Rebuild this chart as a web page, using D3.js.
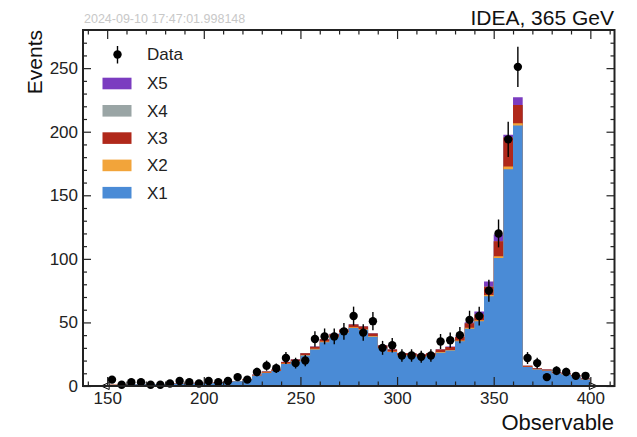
<!DOCTYPE html>
<html>
<head>
<meta charset="utf-8">
<script src="https://cdn.jsdelivr.net/npm/d3@7"></script>
<style>
  body { margin: 0; background: #fff; }
  svg { display: block; font-family: "Liberation Sans", Arial, Helvetica, sans-serif; }
</style>
</head>
<body>
<svg id="chart" width="637" height="437"></svg>
<script>
// bin low edges (5 GeV bins, 150-400)
var binLow = [150, 155, 160, 165, 170, 175, 180, 185, 190, 195,
              200, 205, 210, 215, 220, 225, 230, 235, 240, 245,
              250, 255, 260, 265, 270, 275, 280, 285, 290, 295,
              300, 305, 310, 315, 320, 325, 330, 335, 340, 345,
              350, 355, 360, 365, 370, 375, 380, 385, 390, 395];
var binWidth = 5;

var dataCounts = [5, 1, 3, 3, 1, 1, 2, 4, 3, 2,
                  4, 3, 4, 7, 5, 11, 16, 14, 22, 18,
                  20, 37, 39, 39, 43, 55, 42, 51, 30, 32,
                  24, 24, 23, 24, 35, 36, 40, 52, 55, 75,
                  120, 194, 251, 22, 18, 7, 12, 11, 8, 8];

var x1 = [0.85, 0.85, 1.35, 1.35, 1.35, 1.35, 1.75, 1.75, 1.75, 2.25,
          2.25, 2.65, 3.15, 3.65, 5.0, 8.1, 10.3, 11.7, 17.3, 19.2,
          23.9, 28.7, 34.5, 38.4, 41.8, 45.7, 44.2, 38.8, 29.7, 26.8,
          23.9, 23.9, 22.8, 23.7, 26.2, 27.9, 35.2, 45.0, 51.0, 70.5,
          100.7, 170.5, 204.8, 14.9, 13.0, 12.0, 10.1, 9.1, 7.7, 5.2];
var x2 = [0.05, 0.05, 0.05, 0.05, 0.05, 0.05, 0.05, 0.05, 0.05, 0.05,
          0.05, 0.05, 0.05, 0.05, 0.1, 0.2, 0.3, 0.3, 0.4, 0.4,
          0.4, 0.5, 0.5, 0.5, 0.5, 0.5, 0.5, 0.5, 0.4, 0.4,
          0.4, 0.4, 0.4, 0.4, 0.5, 0.5, 0.6, 0.8, 0.8, 1.0,
          1.3, 2.1, 1.8, 0.2, 0.2, 0.2, 0.2, 0.2, 0.2, 0.2];
var x3 = [0.1, 0.1, 0.1, 0.1, 0.1, 0.1, 0.2, 0.2, 0.2, 0.2,
          0.2, 0.3, 0.3, 0.3, 0.4, 0.6, 0.8, 0.9, 1.2, 1.3,
          1.5, 1.6, 1.8, 1.9, 2.0, 2.1, 2.1, 2.0, 1.7, 1.6,
          1.5, 1.5, 1.6, 1.7, 2.0, 2.3, 2.8, 3.5, 4.5, 6.6,
          11.8, 22.8, 14.4, 0.8, 0.7, 0.7, 0.6, 0.6, 0.5, 0.5];
var x4 = [0, 0, 0, 0, 0, 0, 0, 0, 0, 0,
          0, 0, 0, 0, 0, 0, 0, 0, 0, 0,
          0, 0, 0, 0, 0, 0, 0, 0, 0, 0,
          0, 0, 0, 0, 0, 0, 0, 0.1, 0.1, 0.1,
          0.1, 0.1, 0.1, 0, 0, 0, 0, 0, 0, 0];
var x5 = [0, 0, 0, 0, 0, 0, 0, 0, 0, 0,
          0, 0, 0, 0, 0, 0.05, 0.1, 0.1, 0.1, 0.1,
          0.2, 0.2, 0.2, 0.2, 0.2, 0.2, 0.2, 0.2, 0.2, 0.2,
          0.2, 0.2, 0.2, 0.2, 0.3, 0.3, 0.4, 0.7, 2.2, 3.9,
          5.2, 2.1, 6.0, 0.1, 0.1, 0.1, 0.1, 0.1, 0.1, 0.1];

var keys = ["X1", "X2", "X3", "X4", "X5"];
var colors = {X1: "#4a8bd6", X2: "#f2a43a", X3: "#b0281a", X4: "#9aa5a5", X5: "#7b3cc0"};
var legendOrder = ["X5", "X4", "X3", "X2", "X1"];

var xMajor = [150, 200, 250, 300, 350, 400];
var yMajor = [0, 50, 100, 150, 200, 250];

var margin = {top: 30, right: 22.5, bottom: 51, left: 83},
    width = 637 - margin.left - margin.right,
    height = 437 - margin.top - margin.bottom;

var svg = d3.select("#chart");
var g = svg.append("g")
    .attr("transform", "translate(" + margin.left + "," + margin.top + ")");

var x = d3.scaleLinear().domain([137.5, 412.5]).range([0, width]);
var y = d3.scaleLinear().domain([0, 280]).range([height, 0]);

var table = binLow.map(function (lo, i) {
    return {lo: lo, X1: x1[i], X2: x2[i], X3: x3[i], X4: x4[i], X5: x5[i]};
});
var stacked = d3.stack().keys(keys)(table);

// stacked histogram: each layer filled from 0 up to its cumulative top,
// painted top layer first so the lower ones cover it (THStack style)
var area = d3.area()
    .curve(d3.curveStepAfter)
    .x(function (d) { return x(d.x); })
    .y0(y(0))
    .y1(function (d) { return y(d.top); });

g.selectAll(".layer")
    .data(stacked.slice().reverse())
    .enter().append("path")
    .attr("class", "layer")
    .attr("fill", function (d) { return colors[d.key]; })
    .attr("d", function (layer) {
        var steps = layer.map(function (d) {
            return {x: d.data.lo, top: d[1]};
        });
        var last = layer[layer.length - 1];
        steps.push({x: last.data.lo + binWidth, top: last[1]});
        return area(steps);
    });

// data points with sqrt(N) errors
var pts = binLow.map(function (lo, i) {
    return {c: lo + binWidth / 2, n: dataCounts[i]};
});
g.selectAll(".err")
    .data(pts)
    .enter().append("line")
    .attr("class", "err")
    .attr("x1", function (d) { return x(d.c); })
    .attr("x2", function (d) { return x(d.c); })
    .attr("y1", function (d) { return y(d.n - Math.sqrt(d.n)); })
    .attr("y2", function (d) { return y(d.n + Math.sqrt(d.n)); })
    .attr("stroke", "#000")
    .attr("stroke-width", 1.4);
g.selectAll(".dot")
    .data(pts)
    .enter().append("circle")
    .attr("class", "dot")
    .attr("cx", function (d) { return x(d.c); })
    .attr("cy", function (d) { return y(d.n); })
    .attr("r", 4.2)
    .attr("fill", "#000");

// range arrows on the x axis
var triL = [[x(150) + 2, height - 3.5], [x(150) + 2, height + 3.5], [x(150) - 6, height]];
var triR = [[x(400) - 1, height - 3.5], [x(400) - 1, height + 3.5], [x(400) + 7, height]];
g.selectAll(".tri")
    .data([triL, triR])
    .enter().append("path")
    .attr("d", function (d) { return "M" + d.join("L") + "Z"; })
    .attr("fill", "#fff")
    .attr("stroke", "#000")
    .attr("stroke-width", 1);

// axes: inward ticks on all four sides
var xMinor = d3.range(140, 411, 10).filter(function (v) { return v % 50 !== 0; });
var yMinor = d3.range(10, 280, 10).filter(function (v) { return v % 50 !== 0; });

function styleAxis(sel) {
    sel.select(".domain").remove();
    sel.selectAll("line").attr("stroke", "#222").attr("stroke-width", 1.2);
    sel.selectAll("text").attr("fill", "#222").style("font-size", "17px")
        .style("font-family", "'Liberation Sans', Arial, sans-serif");
}

g.append("g").attr("transform", "translate(0," + height + ")")
    .call(d3.axisBottom(x).tickValues(xMajor).tickSize(-9).tickPadding(6).tickFormat(d3.format("d")))
    .call(styleAxis);
g.append("g").attr("transform", "translate(0," + height + ")")
    .call(d3.axisBottom(x).tickValues(xMinor).tickSize(-4.5).tickFormat(""))
    .call(styleAxis);
g.append("g")
    .call(d3.axisTop(x).tickValues(xMajor).tickSize(-9).tickFormat(""))
    .call(styleAxis);
g.append("g")
    .call(d3.axisTop(x).tickValues(xMinor).tickSize(-4.5).tickFormat(""))
    .call(styleAxis);

g.append("g")
    .call(d3.axisLeft(y).tickValues(yMajor).tickSize(-8).tickPadding(5).tickFormat(d3.format("d")))
    .call(styleAxis);
g.append("g")
    .call(d3.axisLeft(y).tickValues(yMinor).tickSize(-4).tickFormat(""))
    .call(styleAxis);
g.append("g").attr("transform", "translate(" + width + ",0)")
    .call(d3.axisRight(y).tickValues(yMajor).tickSize(-8).tickFormat(""))
    .call(styleAxis);
g.append("g").attr("transform", "translate(" + width + ",0)")
    .call(d3.axisRight(y).tickValues(yMinor).tickSize(-4).tickFormat(""))
    .call(styleAxis);

// frame
g.append("rect")
    .attr("width", width)
    .attr("height", height)
    .attr("fill", "none")
    .attr("stroke", "#222")
    .attr("stroke-width", 2);

// legend
var leg = g.append("g").attr("transform", "translate(0,0)");
leg.append("line")
    .attr("x1", 34.5).attr("x2", 34.5).attr("y1", 16).attr("y2", 33.5)
    .attr("stroke", "#000").attr("stroke-width", 1.4);
leg.append("circle").attr("cx", 34.5).attr("cy", 24.5).attr("r", 4.2).attr("fill", "#000");
leg.append("text").attr("x", 64).attr("y", 24.5).attr("dy", "0.35em")
    .style("font-size", "17px").attr("fill", "#222").text("Data");
legendOrder.forEach(function (k, i) {
    var yy = 53.5 + i * 27.3;
    leg.append("rect").attr("x", 19.5).attr("y", yy - 5.8).attr("width", 29).attr("height", 11.6)
        .attr("fill", colors[k]);
    leg.append("text").attr("x", 64).attr("y", yy).attr("dy", "0.35em")
        .style("font-size", "17px").attr("fill", "#222").text(k);
});

// labels
svg.append("text")
    .attr("transform", "translate(42,30) rotate(-90)")
    .attr("text-anchor", "end")
    .style("font-size", "21px").attr("fill", "#111")
    .text("Events");
svg.append("text")
    .attr("x", 614).attr("y", 430)
    .attr("text-anchor", "end")
    .style("font-size", "22px").attr("fill", "#111")
    .text("Observable");
svg.append("text")
    .attr("x", 614).attr("y", 25)
    .attr("text-anchor", "end")
    .style("font-size", "21px").attr("fill", "#111")
    .text("IDEA, 365 GeV");
svg.append("text")
    .attr("x", 84).attr("y", 23)
    .style("font-size", "12.5px").attr("fill", "#c8c8c8")
    .text("2024-09-10 17:47:01.998148");
</script>
</body>
</html>
